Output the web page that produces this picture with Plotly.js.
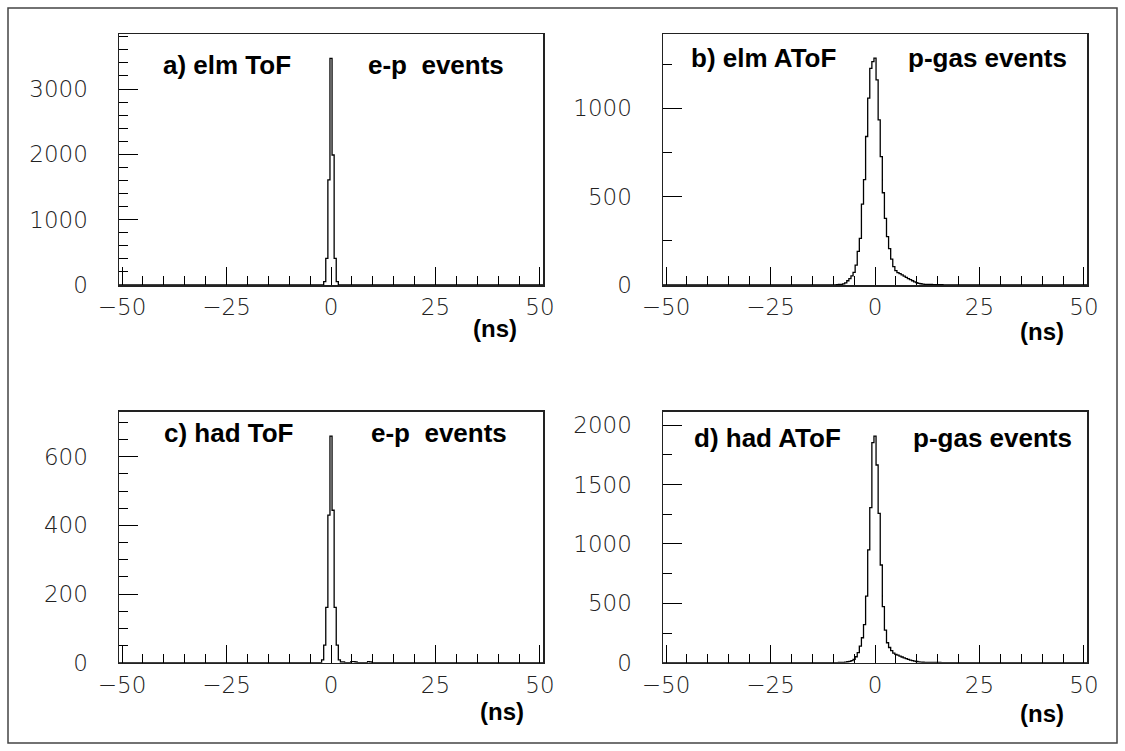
<!DOCTYPE html>
<html>
<head>
<meta charset="utf-8">
<script src="https://cdn.plot.ly/plotly-3.0.1.min.js"></script>
<style>
  html, body { margin: 0; padding: 0; background: #fff; }
  #chart { width: 1125px; height: 751px; }
</style>
</head>
<body>
<div id="chart"></div>
<script>
// ---------------- DATA (bin centres in ns, counts per 0.5 ns bin) ----------------
const xTickVals = [-50, -25, 0, 25, 50];

// a) elm ToF, e-p events
const aTime  = [-2, -1.5, -1, -0.5, 0, 0.5, 1, 1.5, 2];
const aCount = [0, 51, 408, 1608, 3470, 1990, 408, 51, 0];

// b) elm AToF, p-gas events
const bTime  = [-10, -9.5, -9, -8.5, -8, -7.5, -7, -6.5, -6, -5.5, -5, -4.5, -4, -3.5, -3, -2.5, -2, -1.5, -1, -0.5,
                0, 0.5, 1, 1.5, 2, 2.5, 3, 3.5, 4, 4.5, 5, 5.5, 6, 6.5, 7, 7.5, 8, 8.5, 9, 9.5,
                10, 10.5, 11, 11.5, 12, 12.5, 13, 13.5, 14, 14.5, 15, 15.5, 16, 16.5, 17, 17.5, 18, 18.5, 19, 19.5, 20];
const bCount = [0, 1, 2, 3, 4, 6, 12, 24, 36, 52, 71, 113, 190, 264, 458, 596, 840, 1057, 1226, 1264,
                1283, 1160, 934, 726, 522, 377, 274, 206, 146, 104, 81, 70, 64, 57, 50, 43, 36, 30, 24, 18,
                13, 9, 7, 5, 4, 3, 3, 3, 2, 2, 2, 2, 2, 1, 1, 1, 1, 1, 1, 1, 0];

// c) had ToF, e-p events
const cTime  = [-2.5, -2, -1.5, -1, -0.5, 0, 0.5, 1, 1.5, 2, 2.5, 3, 3.5, 4, 4.5, 5, 5.5, 6, 6.5, 7, 7.5, 8, 8.5, 9, 9.5, 10];
const cCount = [0, 8, 51, 161, 430, 660, 444, 161, 51, 8, 2, 2, 0, 0, 0, 3, 3, 2, 0, 0, 0, 0, 0, 3, 2, 0];

// d) had AToF, p-gas events
const dTime  = [-10, -9.5, -9, -8.5, -8, -7.5, -7, -6.5, -6, -5.5, -5, -4.5, -4, -3.5, -3, -2.5, -2, -1.5, -1, -0.5,
                0, 0.5, 1, 1.5, 2, 2.5, 3, 3.5, 4, 4.5, 5, 5.5, 6, 6.5, 7, 7.5, 8, 8.5, 9, 9.5,
                10, 10.5, 11, 11.5, 12, 12.5, 13, 13.5, 14, 14.5, 15, 15.5, 16, 16.5, 17, 17.5, 18];
const dCount = [0, 1, 1, 2, 2, 3, 5, 8, 12, 18, 28, 50, 85, 140, 210, 320, 560, 950, 1306, 1853,
                1909, 1665, 1258, 823, 472, 275, 168, 128, 101, 80, 70, 64, 56, 48, 41, 34, 28, 22, 17, 13,
                10, 7, 5, 4, 3, 3, 2, 2, 2, 2, 2, 2, 1, 1, 1, 1, 0];

const panelLabels = ["a) elm ToF", "b) elm AToF", "c) had ToF", "d) had AToF"];
const eventLabels = ["e-p\u00a0\u00a0events", "p-gas events", "e-p\u00a0\u00a0events", "p-gas events"];
const unitLabel = "(ns)";

// ---------------- PLOT ----------------
const W = 1125, H = 751;
const XR = [-50.72, 50.72];

function stepTrace(t, n, xa, ya) {
  // empty bins out to the axis limits, then the measured bins
  const x = [XR[0]].concat(t, [XR[1]]);
  const y = [0].concat(n, [0]);
  return {
    x: x, y: y, xaxis: xa, yaxis: ya, type: 'scatter', mode: 'lines',
    line: { shape: 'hvh', color: '#000', width: 1.3 },
    hoverinfo: 'skip', showlegend: false, cliponaxis: true
  };
}

const traces = [
  stepTrace(aTime, aCount, 'x', 'y'),
  stepTrace(bTime, bCount, 'x2', 'y2'),
  stepTrace(cTime, cCount, 'x3', 'y3'),
  stepTrace(dTime, dCount, 'x4', 'y4')
];

const tickFont = { family: 'DejaVu Sans ExtraLight, DejaVu Sans Light, DejaVu Sans, sans-serif', size: 23, color: '#222', weight: 200 };

function xAxis(domain, anchor) {
  return {
    domain: domain, anchor: anchor, range: XR, showgrid: false, zeroline: false,
    showline: true, linecolor: '#222', linewidth: 1.5, mirror: true,
    ticks: 'inside', ticklen: 18, tickwidth: 1, tickcolor: '#000',
    tickmode: 'array', tickvals: xTickVals, ticktext: xTickVals.map(v => (v < 0 ? '\u2212' : '') + Math.abs(v)),
    minor: { ticks: 'inside', ticklen: 9, tickwidth: 1, tickcolor: '#000', dtick: 5, tick0: 0, showgrid: false },
    tickfont: tickFont, ticklabelstandoff: 1, fixedrange: true
  };
}
function yAxis(domain, anchor, top, major, minor) {
  return {
    domain: domain, anchor: anchor, range: [0, top], showgrid: false, zeroline: false,
    showline: true, linecolor: '#222', linewidth: 1.5, mirror: true,
    ticks: 'inside', ticklen: 19, tickwidth: 1, tickcolor: '#000',
    tick0: 0, dtick: major,
    minor: { ticks: 'inside', ticklen: 9, tickwidth: 1, tickcolor: '#000', dtick: minor, tick0: 0, showgrid: false },
    tickfont: tickFont, ticklabelstandoff: 25, fixedrange: true
  };
}

const px = v => v / W;
const py = v => 1 - v / H;

const xL = [px(119), px(543)], xRt = [px(663), px(1087)];
const yT = [py(285), py(34)], yB = [py(662.7), py(411.7)];

const boldFont = { family: 'Liberation Sans, Arial, Helvetica, sans-serif', size: 26, color: '#000', weight: 700 };
const unitFont = { family: 'Liberation Sans, Arial, Helvetica, sans-serif', size: 24, color: '#000', weight: 700 };

function ann(text, x, y, font, xanchor) {
  return { text: '<b>' + text + '</b>', x: px(x), y: py(y), xref: 'paper', yref: 'paper',
           xanchor: xanchor || 'left', yanchor: 'middle', showarrow: false, font: font };
}

const annotations = [
  ann(panelLabels[0], 161, 65, boldFont), ann(eventLabels[0], 366, 65, boldFont),
  ann(panelLabels[1], 689, 58, boldFont), ann(eventLabels[1], 906, 58, boldFont),
  ann(panelLabels[2], 162, 433, boldFont), ann(eventLabels[2], 369, 433, boldFont),
  ann(panelLabels[3], 692, 438, boldFont), ann(eventLabels[3], 911, 438, boldFont),
  ann(unitLabel, 495, 329, unitFont, 'center'), ann(unitLabel, 1042, 331, unitFont, 'center'),
  ann(unitLabel, 502, 711, unitFont, 'center'), ann(unitLabel, 1042, 713, unitFont, 'center')
];

const layout = {
  width: W, height: H, margin: { l: 0, r: 0, t: 0, b: 0 },
  paper_bgcolor: '#fff', plot_bgcolor: 'rgba(0,0,0,0)', showlegend: false,
  xaxis: xAxis(xL, 'y'), yaxis: yAxis(yT, 'x', 3842, 1000, 200),
  xaxis2: xAxis(xRt, 'y2'), yaxis2: yAxis(yT, 'x2', 1420, 500, 250),
  xaxis3: xAxis(xL, 'y3'), yaxis3: yAxis(yB, 'x3', 731, 200, 50),
  xaxis4: xAxis(xRt, 'y4'), yaxis4: yAxis(yB, 'x4', 2114, 500, 250),
  annotations: annotations,
  shapes: [{ type: 'rect', xref: 'paper', yref: 'paper', x0: px(8), x1: px(1117), y0: py(743), y1: py(8),
             line: { color: '#444', width: 1.5 }, fillcolor: 'rgba(0,0,0,0)', layer: 'below' }]
};

Plotly.newPlot('chart', traces, layout, { staticPlot: true, displayModeBar: false });
</script>
</body>
</html>
